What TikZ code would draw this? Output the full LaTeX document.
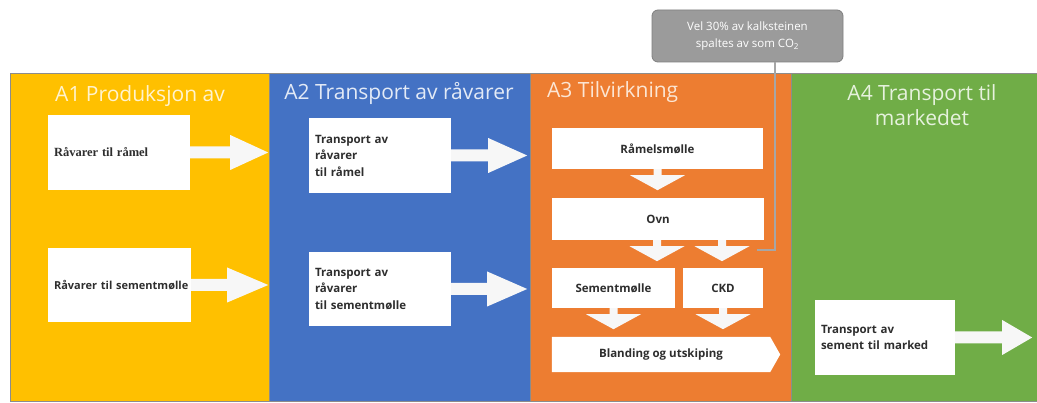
\documentclass[tikz,border=0pt]{standalone}
\usepackage{fontspec}
\setmainfont{Open Sans}
\usetikzlibrary{calc}
\definecolor{cyel}{HTML}{FFC000}
\definecolor{cblu}{HTML}{4472C4}
\definecolor{cora}{HTML}{ED7D31}
\definecolor{cgrn}{HTML}{70AD47}
\definecolor{tyel}{HTML}{FFF3CF}
\definecolor{tblu}{HTML}{E3EAF6}
\definecolor{tora}{HTML}{FCE6D4}
\definecolor{tgrn}{HTML}{E6F2DD}
\definecolor{boxtxt}{HTML}{2E2E2E}
\definecolor{calfill}{HTML}{9B9B9B}
\definecolor{caldraw}{HTML}{7F7F7F}
\definecolor{clinec}{HTML}{A6A6A6}
\definecolor{arrw}{HTML}{F7F7F7}
\newcommand\rarr[3]{\fill[arrowfill] ([yshift=6pt]#1.east) -- ++(#2,0) -- ++(0,-11.5) -- ++(#3,17.5) -- ++(-#3,17.5) -- ++(0,-11.5) -- ++(-#2,0) -- cycle;}
\newcommand\darr[1]{\fill[arrowfill] ([xshift=-4pt]#1) -- ++(0,6) -- ++(-23.5,0) -- ++(27.5,15) -- ++(27.5,-15) -- ++(-23.5,0) -- ++(0,-6) -- cycle;}
\begin{document}
\begin{tikzpicture}[x=1pt,y=-1pt,
  panel/.style={draw=black!45,line width=0.6pt},
  title/.style={font=\fontsize{21}{25}\selectfont,align=center,inner sep=0pt},
  lbox/.style={fill=white,inner xsep=6pt,inner ysep=0pt,align=left,
     font=\fontsize{11.5}{16.5}\selectfont\bfseries,text=boxtxt},
  cbox/.style={fill=white,inner sep=0pt,align=center,
     font=\fontsize{11.5}{16}\selectfont\bfseries,text=boxtxt},
  arrowfill/.style={fill=arrw},
  callout/.style={fill=calfill,draw=caldraw,line width=0.8pt,rounded corners=6pt,
     minimum width=191pt,minimum height=52pt,align=center,text=white,
     font=\fontsize{11.5}{17}\selectfont},
  cline/.style={draw=clinec,line width=2.5pt}
]
\useasboundingbox (0,0) rectangle (1037,403);
\fill[white] (0,0) rectangle (1037,403);
% panels
\filldraw[panel,fill=cyel] (10,73) rectangle (269,401);
\filldraw[panel,fill=cblu] (269,73) rectangle (530,401);
\filldraw[panel,fill=cora] (530,73) rectangle (791,401);
\filldraw[panel,fill=cgrn] (791,73) rectangle (1037,401);
% titles
\node[title,text=tyel] (ti1) at (140,96) {A1 Produksjon av};
\node[title,text=tblu] (ti2) at (399,93) {A2 Transport av råvarer};
\node[title,text=tora,anchor=west] (ti3) at (547,92) {A3 Tilvirkning};
\node[title,text=tgrn] (ti4) at (922,105) {A4 Transport til\\markedet};
% A1
\node[lbox,minimum width=142pt,minimum height=75pt,text width=130pt] (r1) at (119,152.5)
  {\fontspec{Liberation Serif}\bfseries\fontsize{12.5}{16}\selectfont Råvarer til råmel};
\node[lbox,minimum width=143pt,minimum height=74pt,text width=131pt] (r2) at (119.5,285)
  {\mbox{\fontsize{11}{16}\selectfont Råvarer til sementmølle}};
\rarr{r1}{40}{38}
\rarr{r2}{36}{41}
% A2
\node[lbox,minimum width=142pt,minimum height=75pt,text width=130pt] (t1) at (380,155.5)
  {Transport av\\råvarer\\til råmel};
\node[lbox,minimum width=142pt,minimum height=74pt,text width=130pt] (t2) at (380,289)
  {Transport av\\råvarer\\til sementmølle};
\rarr{t1}{37}{39}
\rarr{t2}{36}{40}
% A3
\node[cbox,minimum width=211pt,minimum height=41pt] (rm) at (657.5,148.5) {Råmelsmølle};
\node[cbox,minimum width=212pt,minimum height=42pt] (ovn) at (658,219) {Ovn};
\node[cbox,minimum width=123pt,minimum height=40pt] (sm) at (613.5,288) {Sementmølle};
\node[cbox,minimum width=80pt,minimum height=40pt] (ckd) at (723,288) {CKD};
\node[minimum width=218pt,minimum height=35pt,inner sep=0pt] (blend) at (661,354.5) {};
\fill[white] (blend.north west) -- (blend.north east) -- ([xshift=10pt]blend.east)
  -- (blend.south east) -- (blend.south west) -- cycle;
\node[cbox] (blendtxt) at (blend.center) {Blanding og utskiping};
\coordinate (o1) at ([xshift=-1pt]ovn.south);
\coordinate (o2) at ([xshift=64pt]ovn.south);
\darr{rm.south}
\darr{o1}
\darr{o2}
\darr{sm.south}
\darr{ckd.south}
% callout
\node[callout] (cal) at (747.5,36) {Vel 30\% av kalksteinen\\spaltes av som CO\textsubscript{2}};
\coordinate (lend) at (757,250);
\draw[cline] ([xshift=27.5pt]cal.south) |- (lend);
% A4
\node[lbox,minimum width=140pt,minimum height=75pt,text width=128pt] (tm) at (885,337.5)
  {Transport av\\sement til marked};
\rarr{tm}{47}{30}
\end{tikzpicture}
\end{document}
